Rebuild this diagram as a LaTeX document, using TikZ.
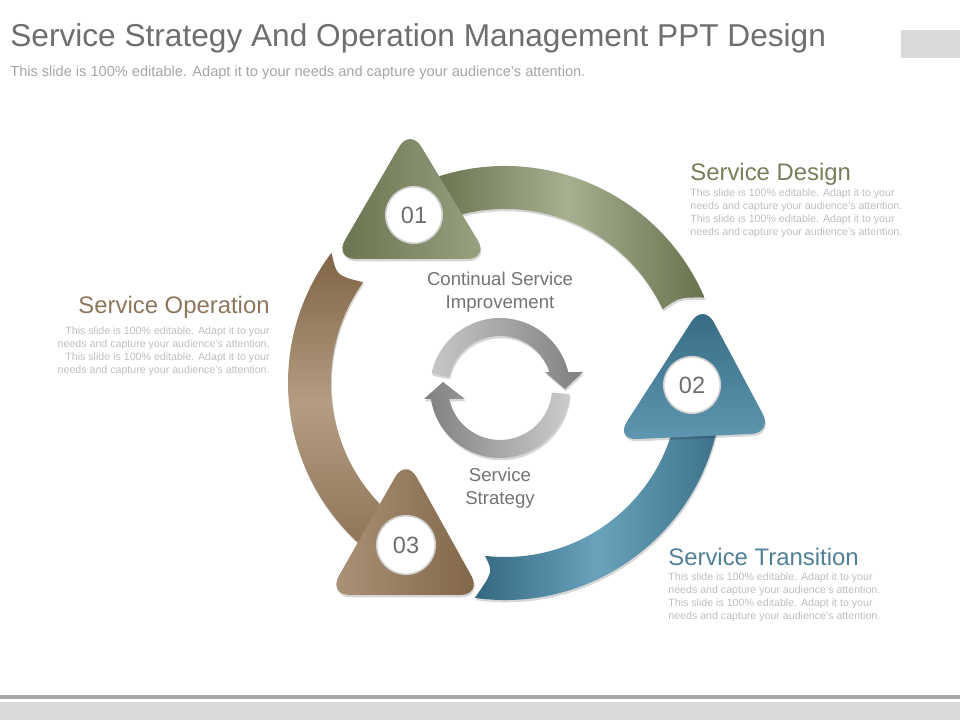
\documentclass[tikz,border=0pt]{standalone}
\usepackage{fontspec}
\setmainfont{Liberation Sans}
\usetikzlibrary{shadows}
\definecolor{grnD}{RGB}{104,114,78}
\definecolor{grnL}{RGB}{166,176,144}
\definecolor{bluD}{RGB}{52,104,128}
\definecolor{bluL}{RGB}{106,162,188}
\definecolor{brnD}{RGB}{128,100,70}
\definecolor{brnL}{RGB}{180,157,130}
\definecolor{titlegray}{RGB}{110,110,110}
\definecolor{subgray}{RGB}{165,165,165}
\definecolor{bodygray}{RGB}{190,190,190}
\definecolor{midgray}{RGB}{115,115,115}
\definecolor{headgrn}{RGB}{118,126,92}
\definecolor{headbrn}{RGB}{140,118,92}
\definecolor{headblu}{RGB}{80,128,150}
\definecolor{barlight}{RGB}{217,217,217}
\definecolor{bardark}{RGB}{165,165,165}
\begin{document}
\begin{tikzpicture}[x=0.02cm,y=0.02cm,
  titletext/.style={anchor=base west, inner sep=0, text=titlegray, font=\fontsize{18}{21}\selectfont},
  subtext/.style={anchor=base west, inner sep=0, text=subgray, font=\fontsize{8.3}{10}\selectfont},
  headtext/.style={inner sep=0, font=\fontsize{13.6}{16}\selectfont},
  bodytext/.style={inner sep=0, text=bodygray, font=\fontsize{6.05}{7}\selectfont},
  centertext/.style={anchor=base, inner sep=0, text=midgray, font=\fontsize{10.6}{13}\selectfont},
  numcirc/.style={circle, fill=white, draw=black!18, line width=0.9pt, minimum size=1.13cm, inner sep=0, text=titlegray, font=\fontsize{13.4}{16}\selectfont},
  tri/.style={rounded corners=0.44cm},
  softshadow/.style={drop shadow={shadow xshift=0.5pt, shadow yshift=-1.3pt, opacity=0.16, fill=black}},
]
\useasboundingbox (0,0) rectangle (960,720);
% top right tab and bottom bars
\fill[barlight] (901,662) rectangle (960,690);
\fill[bardark] (0,21) rectangle (960,25);
\fill[barlight] (0,0) rectangle (960,18);
% title
\node[titletext] (title) at (10,673) {Service Strategy And Operation Management PPT Design};
\node[subtext] (sub) at (10,643) {This slide is 100\% editable. Adapt it to your needs and capture your audience's attention.};
% big ring bands
\begin{scope}[shift={(505,337)}]
  \shade[softshadow, left color=grnD, right color=grnD, middle color=grnL]
    (110:217) arc[start angle=110, end angle=23.2, radius=217]
    .. controls (26.2:194) .. (25.1:174)
    arc[start angle=25.1, end angle=110, radius=174] -- cycle;
  \shade[softshadow, top color=brnD, bottom color=brnD!75!brnL, middle color=brnL]
    (143.1:217) arc[start angle=143.1, end angle=232, radius=217]
    -- (232:174) arc[start angle=232, end angle=144.6, radius=174]
    .. controls (147.5:200) .. (143.1:217) -- cycle;
  \shade[softshadow, left color=bluD, right color=bluD!85!bluL, middle color=bluL]
    (-98:217) arc[start angle=-98, end angle=-8, radius=217]
    -- (-8:174) arc[start angle=-8, end angle=-96.6, radius=174]
    .. controls (-93.6:189) .. (-98:217) -- cycle;
\end{scope}
% arrow heads
\shade[tri, softshadow, left color=grnD, right color=grnL!80!grnD] (410,592) -- (489,461) -- (334,461) -- cycle;
\shade[tri, softshadow, top color=bluD, bottom color=bluL!80!bluD] (703.5,417) -- (773,287) -- (615,280) -- cycle;
\shade[tri, softshadow, left color=brnL!85!brnD, right color=brnD] (406,262) -- (482,125) -- (328,125) -- cycle;
% number circles
\node[numcirc] (n1) at (414,505) {01};
\node[numcirc] (n2) at (692,335) {02};
\node[numcirc, minimum size=1.17cm] (n3) at (406,175) {03};
% central cycle arrows
\begin{scope}[shift={(500,332)}]
  \shade[softshadow, left color=black!22, right color=black!50]
    (168:70) arc[start angle=168, end angle=13.2, radius=70]
    -- (83,16) -- (65,-1) -- (45,16) -- (17.9:52)
    arc[start angle=17.9, end angle=168, radius=52] -- cycle;
  \shade[softshadow, left color=black!50, right color=black!20]
    (-5:70) arc[start angle=-5, end angle=-171, radius=70]
    -- (-76,-11) -- (-57,6) -- (-35,-11) -- (-167.8:52)
    arc[start angle=-167.8, end angle=-5, radius=52] -- cycle;
\end{scope}
% center labels
\node[centertext] (c1) at (500,434) {Continual Service};
\node[centertext] (c2) at (500,411) {Improvement};
\node[centertext] (s1) at (500,238) {Service};
\node[centertext] (s2) at (500,215) {Strategy};
% Service Design
\node[headtext, anchor=base west, text=headgrn] (hd) at (690,539) {Service Design};
\node[bodytext, anchor=base west] (d1) at (690,523) {This slide is 100\% editable. Adapt it to your};
\node[bodytext, anchor=base west] (d2) at (690,510) {needs and capture your audience's attention.};
\node[bodytext, anchor=base west] (d3) at (690,497) {This slide is 100\% editable. Adapt it to your};
\node[bodytext, anchor=base west] (d4) at (690,484) {needs and capture your audience's attention.};
% Service Operation
\node[headtext, anchor=base east, text=headbrn] (ho) at (270,406) {Service Operation};
\node[bodytext, anchor=base east] (o1) at (270,385) {This slide is 100\% editable. Adapt it to your};
\node[bodytext, anchor=base east] (o2) at (270,372) {needs and capture your audience's attention.};
\node[bodytext, anchor=base east] (o3) at (270,359) {This slide is 100\% editable. Adapt it to your};
\node[bodytext, anchor=base east] (o4) at (270,346) {needs and capture your audience's attention.};
% Service Transition
\node[headtext, anchor=base west, text=headblu] (ht) at (668,154) {Service Transition};
\node[bodytext, anchor=base west] (t1) at (668,139) {This slide is 100\% editable. Adapt it to your};
\node[bodytext, anchor=base west] (t2) at (668,126) {needs and capture your audience's attention.};
\node[bodytext, anchor=base west] (t3) at (668,113) {This slide is 100\% editable. Adapt it to your};
\node[bodytext, anchor=base west] (t4) at (668,100) {needs and capture your audience's attention.};
\end{tikzpicture}
\end{document}
